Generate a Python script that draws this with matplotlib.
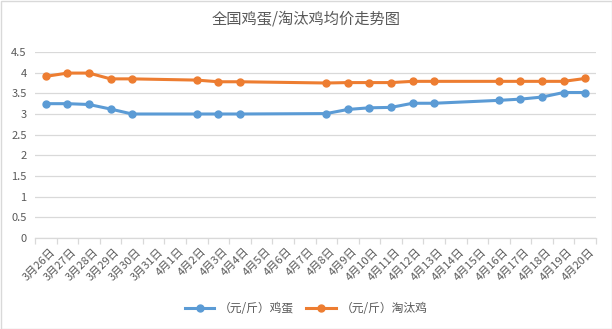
import matplotlib
matplotlib.use('Agg')
import matplotlib.pyplot as plt
from matplotlib.patches import Rectangle
from matplotlib.transforms import ScaledTranslation
import numpy as np

plt.rcParams['font.family'] = ['Noto Sans CJK SC', 'DejaVu Sans']

# all dates on the category axis
dates = ['3月26日', '3月27日', '3月28日', '3月29日', '3月30日', '3月31日',
         '4月1日', '4月2日', '4月3日', '4月4日', '4月5日', '4月6日', '4月7日',
         '4月8日', '4月9日', '4月10日', '4月11日', '4月12日', '4月13日',
         '4月14日', '4月15日', '4月16日', '4月17日', '4月18日', '4月19日', '4月20日']
# dates that have data
data_dates = ['3月26日', '3月27日', '3月28日', '3月29日', '3月30日', '4月2日',
              '4月3日', '4月4日', '4月8日', '4月9日', '4月10日', '4月11日',
              '4月12日', '4月13日', '4月16日', '4月17日', '4月18日', '4月19日', '4月20日']
egg = [3.25, 3.25, 3.23, 3.12, 3.0, 3.0, 3.0, 3.0, 3.01, 3.11, 3.15, 3.16,
       3.26, 3.26, 3.33, 3.36, 3.41, 3.52, 3.52]
hen = [3.91, 3.99, 3.99, 3.85, 3.85, 3.82, 3.78, 3.78, 3.75, 3.76, 3.76, 3.76,
       3.79, 3.79, 3.79, 3.79, 3.79, 3.79, 3.86]
y_ticks = [0, 0.5, 1, 1.5, 2, 2.5, 3, 3.5, 4, 4.5]

txt = '#595959'
grid = '#D9D9D9'

fig = plt.figure(figsize=(6.12, 3.29), dpi=100)
ax = fig.add_axes([35 / 612, 1 - 238 / 329, (596 - 35) / 612, (238 - 52) / 329])

xpos = [dates.index(d) for d in data_dates]
ax.plot(xpos, egg, color='#5B9BD5', lw=2.2, marker='o', ms=5, label='（元/斤）鸡蛋')
ax.plot(xpos, hen, color='#ED7D31', lw=2.2, marker='o', ms=5, label='（元/斤）淘汰鸡')

ax.set_xlim(-0.5, len(dates) - 0.5)
ax.set_ylim(0, 4.5)
ax.set_yticks(y_ticks)
ax.set_yticklabels([f'{v:g}' for v in y_ticks], fontsize=8, color=txt)
ax.tick_params(axis='y', length=0, pad=6)
ax.yaxis.grid(True, color=grid, lw=0.9)
ax.set_axisbelow(True)

ax.set_xticks(np.arange(len(dates)))
ax.set_xticklabels(dates, rotation=45, ha='right', va='top', rotation_mode='anchor',
                   fontsize=8, color=txt)
ax.tick_params(axis='x', which='major', length=0, pad=6)
ax.set_xticks(np.arange(len(dates) + 1) - 0.5, minor=True)
ax.tick_params(axis='x', which='minor', length=4, color=grid, width=0.9)
# nudge the slanted labels a little to the right, like the original
shift = ScaledTranslation(4 / 100, 0, fig.dpi_scale_trans)
for lab in ax.get_xticklabels():
    lab.set_transform(lab.get_transform() + shift)

for s in ['top', 'right', 'left']:
    ax.spines[s].set_visible(False)
ax.spines['bottom'].set_color(grid)
ax.spines['bottom'].set_linewidth(0.9)

fig.text(0.5, 1 - 19 / 329, '全国鸡蛋/淘汰鸡均价走势图', ha='center', va='center',
         fontsize=11, color=txt)

fig.legend(loc='center', bbox_to_anchor=(0.5, 1 - 309 / 329), ncol=2, frameon=False,
           fontsize=8.5, labelcolor=txt, handlelength=2.5, columnspacing=1.0,
           handletextpad=0.4)

fig.patches.append(Rectangle((0.5 / 612, 0.5 / 329), 1 - 1 / 612, 1 - 1 / 329,
                             transform=fig.transFigure, fill=False,
                             edgecolor=grid, lw=1))

fig.savefig('out.png', dpi=100)
